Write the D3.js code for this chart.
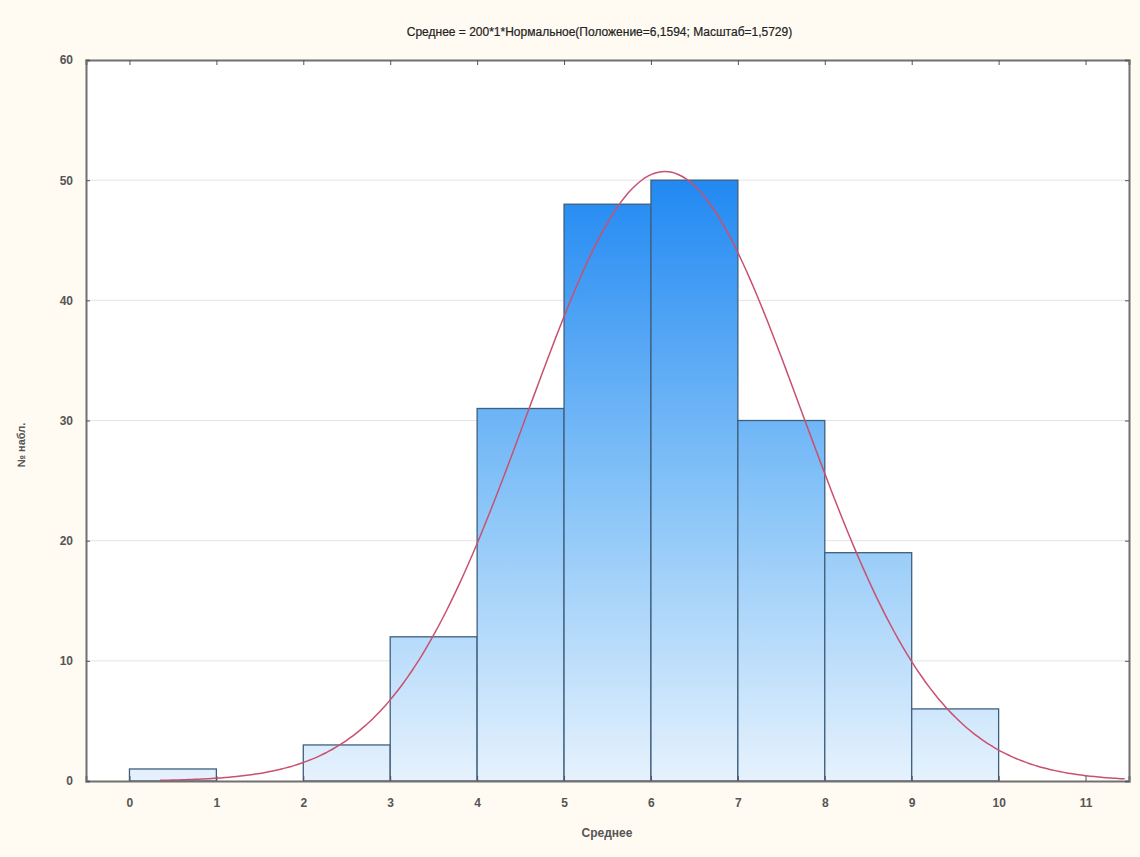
<!DOCTYPE html>
<html>
<head>
<meta charset="utf-8">
<script src="https://cdn.jsdelivr.net/npm/d3@7"></script>
<style>
  body { margin: 0; background: #fffbf2; }
  text { font-family: "Liberation Sans", Arial, sans-serif; fill: #444; }
</style>
</head>
<body>
<div id="chart"></div>
<script>
// bins and counts
var binStarts = [0, 1, 2, 3, 4, 5, 6, 7, 8, 9];
var counts = [1, 0, 3, 12, 31, 48, 50, 30, 19, 6];
var xTicks = [0, 1, 2, 3, 4, 5, 6, 7, 8, 9, 10, 11];
var yTicks = [0, 10, 20, 30, 40, 50, 60];

// fitted curve parameters, as given in the title
var fitN = 200, fitBin = 1, fitMu = 6.1594, fitSigma = 1.5729;
var curveFrom = 0.35, curveTo = 11.45;

var title = "Среднее = 200*1*Нормальное(Положение=6,1594; Масштаб=1,5729)";

var W = 1140, H = 857;
var margin = {top: 60, right: 11, bottom: 76, left: 86},
    width = W - margin.left - margin.right,
    height = H - margin.top - margin.bottom;

var svg = d3.select("#chart")
  .append("svg")
    .attr("width", W)
    .attr("height", H);

svg.append("rect").attr("width", W).attr("height", H).attr("fill", "#fffbf2");

var g = svg.append("g")
    .attr("transform", "translate(" + margin.left + "," + margin.top + ")");

var x = d3.scaleLinear().domain([-0.5, 11.5]).range([0, width]);
var y = d3.scaleLinear().domain([0, 60]).range([height, 0]);

// gradient over whole plot height
var defs = svg.append("defs");
var grad = defs.append("linearGradient")
    .attr("id", "barGrad")
    .attr("gradientUnits", "userSpaceOnUse")
    .attr("x1", 0).attr("x2", 0)
    .attr("y1", y(0)).attr("y2", y(50));
grad.append("stop").attr("offset", "0%").attr("stop-color", "#e6f2fd");
grad.append("stop").attr("offset", "45%").attr("stop-color", "#8cc6f8");
grad.append("stop").attr("offset", "100%").attr("stop-color", "#2189f2");

// plot background
g.append("rect")
  .attr("width", width)
  .attr("height", height)
  .attr("fill", "#ffffff");

// grid lines
g.selectAll(".grid")
  .data(yTicks.filter(function(d) { return d > 0 && d < 60; }))
  .enter()
  .append("line")
  .attr("x1", 0).attr("x2", width)
  .attr("y1", function(d) { return y(d); })
  .attr("y2", function(d) { return y(d); })
  .attr("stroke", "#e4e4e4")
  .attr("stroke-width", 1);

// bars
g.selectAll(".bar")
  .data(binStarts)
  .enter()
  .append("rect")
  .filter(function(d, i) { return counts[i] > 0; })
  .attr("x", function(d) { return x(d); })
  .attr("y", function(d) { return y(counts[binStarts.indexOf(d)]); })
  .attr("width", function(d) { return x(d + 1) - x(d); })
  .attr("height", function(d) { return height - y(counts[binStarts.indexOf(d)]); })
  .attr("fill", "url(#barGrad)")
  .attr("stroke", "#3f5f7d")
  .attr("stroke-width", 1.3);

// normal curve
var curveX = d3.range(curveFrom, curveTo + 0.001, 0.05);
var pdf = function(v) {
  var z = (v - fitMu) / fitSigma;
  return fitN * fitBin * Math.exp(-0.5 * z * z) / (fitSigma * Math.sqrt(2 * Math.PI));
};
g.append("path")
  .datum(curveX)
  .attr("fill", "none")
  .attr("stroke", "#c9506f")
  .attr("stroke-width", 1.5)
  .attr("d", d3.line()
    .x(function(d) { return x(d); })
    .y(function(d) { return y(pdf(d)); })
    .curve(d3.curveBasis));

// axes
var xAxis = g.append("g")
  .attr("transform", "translate(0," + height + ")")
  .call(d3.axisBottom(x).tickValues(xTicks).tickSize(-5).tickPadding(17));
var xTop = g.append("g")
  .call(d3.axisTop(x).tickValues(xTicks).tickSize(-5).tickFormat(""));
var yAxis = g.append("g")
  .call(d3.axisLeft(y).tickValues(yTicks).tickSize(-4).tickPadding(13));
var yRight = g.append("g")
  .attr("transform", "translate(" + width + ",0)")
  .call(d3.axisRight(y).tickValues(yTicks).tickSize(-4).tickFormat(""));

[xAxis, xTop, yAxis, yRight].forEach(function(a) {
  a.select(".domain").attr("stroke", "#707070").attr("stroke-width", 2);
  a.selectAll(".tick line").attr("stroke", "#555");
  a.selectAll("text")
    .style("font-size", "12px")
    .style("font-weight", "bold")
    .style("fill", "#555");
});

// title and labels
svg.append("text")
  .attr("x", margin.left + width / 2 - 8)
  .attr("y", 36)
  .attr("text-anchor", "middle")
  .style("font-size", "12px")
  .style("fill", "#222")
  .style("stroke", "#222")
  .style("stroke-width", 0.2)
  .text(title);

svg.append("text")
  .attr("x", 607)
  .attr("y", 837)
  .attr("text-anchor", "middle")
  .style("font-size", "12px")
  .style("font-weight", "bold")
  .style("fill", "#555")
  .text("Среднее");

svg.append("text")
  .attr("transform", "translate(25," + (margin.top + 385) + ")rotate(-90)")
  .attr("text-anchor", "middle")
  .style("font-size", "11px")
  .style("font-weight", "bold")
  .style("fill", "#555")
  .text("№ набл.");
</script>
</body>
</html>
